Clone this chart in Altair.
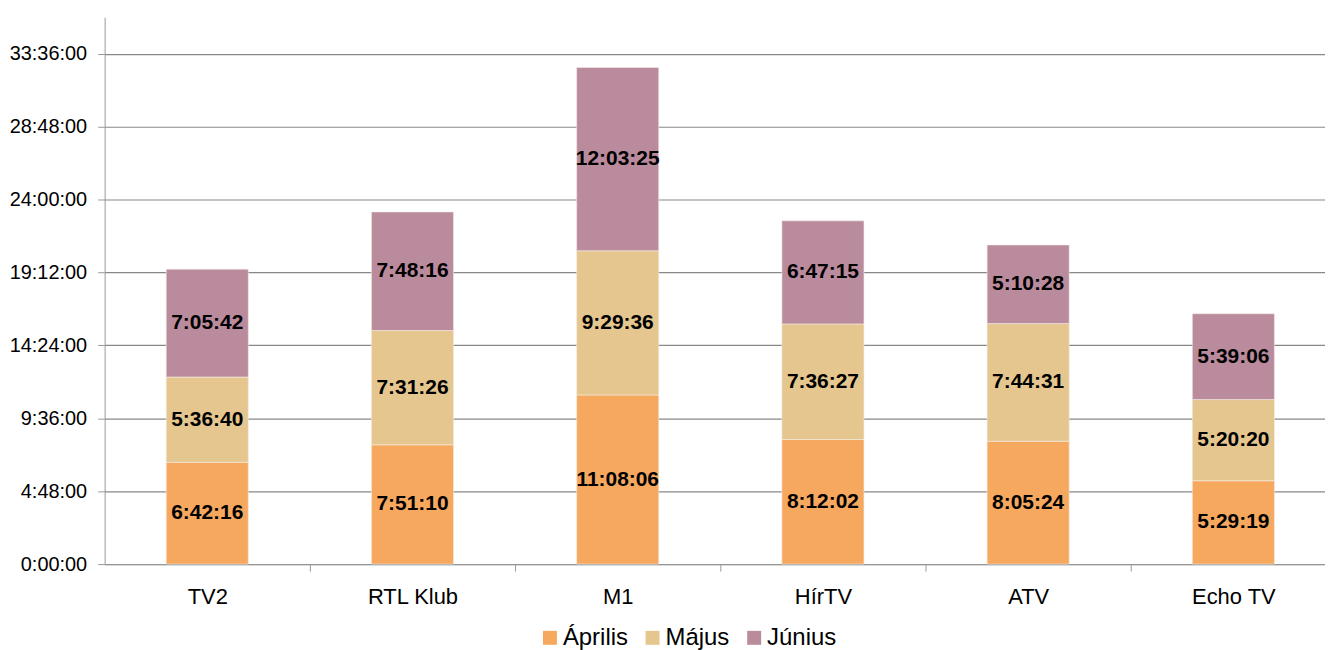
import altair as alt
import pandas as pd

channels = ["TV2", "RTL Klub", "M1", "HírTV", "ATV", "Echo TV"]
months = ["Április", "Május", "Június"]
aprilis = ["6:42:16", "7:51:10", "11:08:06", "8:12:02", "8:05:24", "5:29:19"]
majus = ["5:36:40", "7:31:26", "9:29:36", "7:36:27", "7:44:31", "5:20:20"]
junius = ["7:05:42", "7:48:16", "12:03:25", "6:47:15", "5:10:28", "5:39:06"]
colors = ["#F7A85F", "#E4C68E", "#BA8A9D"]
y_ticks = [0, 17280, 34560, 51840, 69120, 86400, 103680, 120960]


def to_sec(s):
    h, m, sec = s.split(":")
    return int(h) * 3600 + int(m) * 60 + int(sec)


rows = []
for mi, (mname, series) in enumerate(zip(months, [aprilis, majus, junius])):
    for ch, val in zip(channels, series):
        rows.append({"csatorna": ch, "honap": mname, "ord": mi,
                     "sec": to_sec(val), "label": val})
df = pd.DataFrame(rows)

FONT = "Liberation Sans"

base = alt.Chart(df).transform_stack(
    stack="sec", groupby=["csatorna"], as_=["y0", "y1"],
    sort=[alt.SortField("ord", order="ascending")]
).transform_calculate(mid="(datum.y0 + datum.y1) / 2")

x_scale = alt.Scale(paddingInner=0.6, paddingOuter=0.2733, align=0.549)

x_enc = alt.X("csatorna:N", sort=channels, title=None, scale=x_scale,
              axis=alt.Axis(labelAngle=0, labelFontSize=22, labelFont=FONT,
                            labelColor="#000000", tickOffset=103,
                            labelOffset=-103,
                            tickSize=7, tickColor="#999999",
                            domainColor="#999999", labelPadding=16,
                            grid=False))

bars = base.mark_bar(stroke="#F4EDE4", strokeWidth=0.6).encode(
    x=x_enc,
    y=alt.Y("y0:Q", title=None,
            scale=alt.Scale(domain=[0, 129600], nice=False),
            axis=alt.Axis(values=y_ticks,
                          labelExpr="floor(datum.value/3600) + ':' + (floor((datum.value%3600)/60) < 10 ? '0' : '') + floor((datum.value%3600)/60) + ':00'",
                          labelFontSize=20, labelFont=FONT, labelColor="#000000",
                          tickSize=7, tickColor="#999999", domainColor="#999999",
                          gridColor="#888888", gridWidth=1.2, labelPadding=11)),
    y2="y1:Q",
    color=alt.Color("honap:N", sort=months,
                    scale=alt.Scale(domain=months, range=colors),
                    legend=alt.Legend(title=None, orient="none",
                                      direction="horizontal",
                                      legendX=435, legendY=611,
                                      symbolType="square", symbolSize=196,
                                      symbolStrokeWidth=0, labelFontSize=24,
                                      labelFont=FONT, labelColor="#000000",
                                      labelOffset=1, columnPadding=12,
                                      padding=0)),
    order=alt.Order("ord:Q"),
)

texts = base.mark_text(fontWeight="bold", fontSize=21, font=FONT,
                       color="#000000", baseline="middle").encode(
    x=alt.X("csatorna:N", sort=channels),
    y=alt.Y("mid:Q"),
    text="label:N",
)

chart = alt.layer(bars, texts).properties(
    width=1225, height=549,
    autosize=alt.AutoSizeParams(type="none"),
    padding={"left": 97, "top": 8, "right": 0, "bottom": 85},
).configure_view(stroke=None).configure_axis(domainWidth=1, tickWidth=1)

chart.save("out.html", embed_options={"renderer": "svg", "actions": False})
